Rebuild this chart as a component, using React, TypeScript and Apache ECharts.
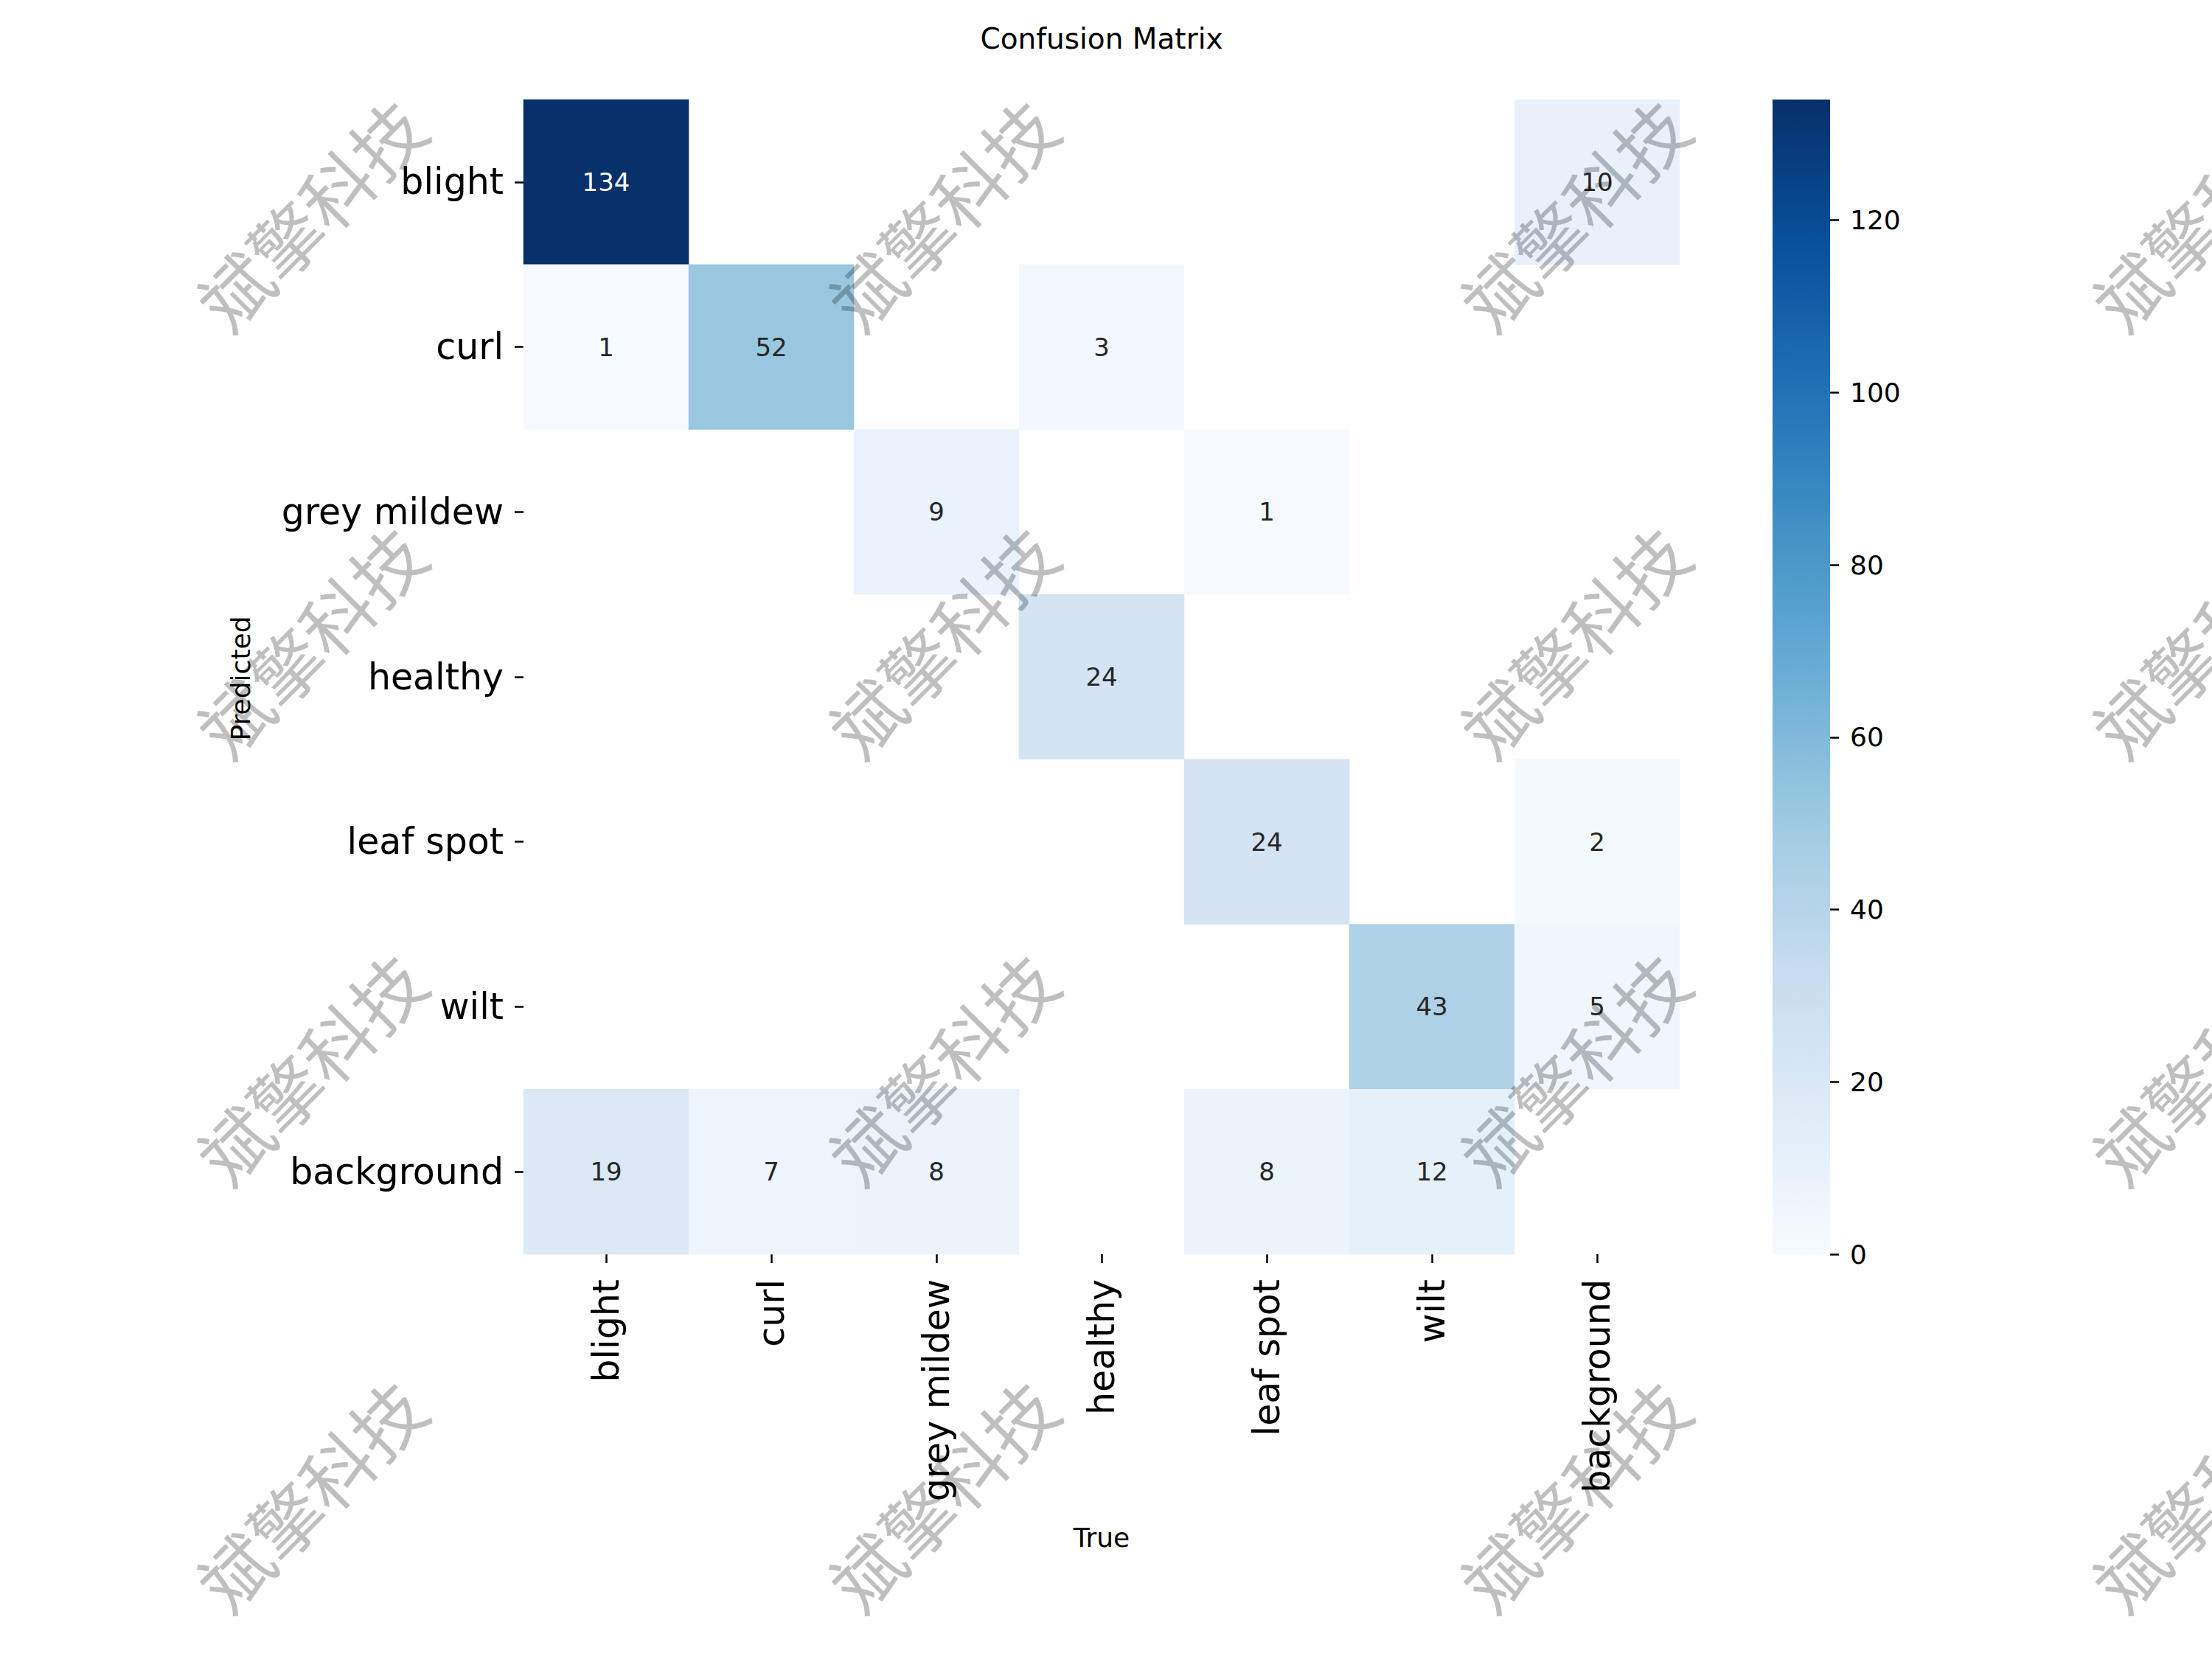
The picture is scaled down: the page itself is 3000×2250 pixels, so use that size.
import React, { useEffect, useRef } from "react";
import * as echarts from "echarts";

// Class labels shared by both axes (rows = predicted, columns = true)
const classNames = ["blight", "curl", "grey mildew", "healthy", "leaf spot", "wilt", "background"];

// Confusion counts, one array per predicted class; 0 = empty cell
const predBlight = [134, 0, 0, 0, 0, 0, 10];
const predCurl = [1, 52, 0, 3, 0, 0, 0];
const predGreyMildew = [0, 0, 9, 0, 1, 0, 0];
const predHealthy = [0, 0, 0, 24, 0, 0, 0];
const predLeafSpot = [0, 0, 0, 0, 24, 0, 2];
const predWilt = [0, 0, 0, 0, 0, 43, 5];
const predBackground = [19, 7, 8, 0, 8, 12, 0];
const matrix = [predBlight, predCurl, predGreyMildew, predHealthy, predLeafSpot, predWilt, predBackground];

// Colour bar range and tick values
const colorMin = 0;
const colorMax = 134;
const colorbarTicks = [0, 20, 40, 60, 80, 100, 120];

const titleText = "Confusion Matrix";
const xName = "True";
const yName = "Predicted";
const watermarkText = "斌擎科技";

// "Blues" sequential palette, light to dark
const blues = ["#f7fbff", "#deebf7", "#c6dbef", "#9ecae1", "#6baed6", "#4292c6", "#2171b5", "#08519c", "#08306b"];

const LATIN = '"DejaVu Sans", sans-serif';
const CJK = '"Noto Sans CJK SC", sans-serif';

function hexToRgb(h: string) {
  const n = parseInt(h.slice(1), 16);
  return [(n >> 16) & 255, (n >> 8) & 255, n & 255];
}

function colorAt(t: number) {
  const f = Math.max(0, Math.min(1, t)) * (blues.length - 1);
  const i = Math.min(blues.length - 2, Math.floor(f));
  const k = f - i;
  const a = hexToRgb(blues[i]);
  const b = hexToRgb(blues[i + 1]);
  return a.map((c, j) => c + (b[j] - c) * k);
}

// Annotation colour picked from the luminance of the cell colour
function annotColor(v: number) {
  const rgb = colorAt((v - colorMin) / (colorMax - colorMin)).map((c) => {
    const s = c / 255;
    return s <= 0.03928 ? s / 12.92 : Math.pow((s + 0.055) / 1.055, 2.4);
  });
  const lum = 0.2126 * rgb[0] + 0.7152 * rgb[1] + 0.0722 * rgb[2];
  return lum > 0.408 ? "#262626" : "#ffffff";
}

export default function App() {
  const ref = useRef<HTMLDivElement>(null);

  useEffect(() => {
    if (!ref.current) return;
    const chart = echarts.init(ref.current, undefined, { renderer: "svg" });

    const cells: any[] = [];
    matrix.forEach((row, r) => {
      row.forEach((v, c) => {
        if (v > 0) {
          cells.push({ value: [c, r, v], label: { color: annotColor(v) } });
        }
      });
    });

    const tickStyle = { color: "#000", width: 2.5 };

    // Watermark grid
    const marks: any[] = [];
    for (let i = 0; i < 4; i++) {
      for (let j = 0; j < 4; j++) {
        marks.push({
          type: "text",
          x: 420 + 857 * i,
          y: 289 + 579 * j,
          rotation: Math.PI / 4,
          z: 100,
          silent: true,
          style: {
            text: watermarkText,
            fontSize: 97,
            fontFamily: CJK,
            fill: "rgba(0,0,0,0.25)",
            align: "center",
            verticalAlign: "middle",
            textAlign: "center",
            textVerticalAlign: "middle",
          },
        });
      }
    }

    const gradientStops = blues
      .slice()
      .reverse()
      .map((c, i) => ({ offset: i / (blues.length - 1), color: c }));

    chart.setOption({
      animation: false,
      backgroundColor: "#ffffff",
      grid: [
        { left: 710, top: 135, width: 1568, height: 1566 },
        { left: 2404, top: 135, width: 78, height: 1566 },
      ],
      xAxis: [
        {
          type: "category",
          gridIndex: 0,
          data: classNames,
          position: "bottom",
          axisLine: { show: false },
          axisTick: { show: true, alignWithLabel: true, length: 12, lineStyle: tickStyle },
          axisLabel: { rotate: 90, fontSize: 49, fontFamily: LATIN, color: "#000", margin: 34 },
          splitLine: { show: false },
        },
        { type: "category", gridIndex: 1, data: ["scale"], show: false },
      ],
      yAxis: [
        {
          type: "category",
          gridIndex: 0,
          data: classNames,
          inverse: true,
          axisLine: { show: false },
          axisTick: { show: true, alignWithLabel: true, length: 12, lineStyle: tickStyle },
          axisLabel: { fontSize: 49, fontFamily: LATIN, color: "#000", margin: 27 },
          splitLine: { show: false },
        },
        {
          type: "value",
          gridIndex: 1,
          position: "right",
          min: colorMin,
          max: colorMax,
          interval: 20,
          axisLine: { show: false },
          axisTick: { show: true, length: 12, lineStyle: tickStyle, customValues: colorbarTicks },
          axisLabel: { fontSize: 36, fontFamily: LATIN, color: "#000", margin: 27, customValues: colorbarTicks },
          splitLine: { show: false },
        },
      ],
      visualMap: {
        show: false,
        type: "continuous",
        min: colorMin,
        max: colorMax,
        seriesIndex: 0,
        dimension: 2,
        inRange: { color: blues },
      },
      series: [
        {
          type: "heatmap",
          xAxisIndex: 0,
          yAxisIndex: 0,
          data: cells,
          label: {
            show: true,
            fontSize: 34,
            fontFamily: LATIN,
            formatter: (p: any) => String(p.value[2]),
          },
          emphasis: { disabled: true },
        },
        {
          type: "bar",
          xAxisIndex: 1,
          yAxisIndex: 1,
          data: [colorMax],
          barWidth: "100%",
          silent: true,
          itemStyle: { color: new echarts.graphic.LinearGradient(0, 0, 0, 1, gradientStops) },
        },
      ],
      graphic: [
        {
          type: "text",
          x: 1494,
          y: 52,
          style: {
            text: titleText,
            fontSize: 39,
            fontFamily: LATIN,
            fill: "#000",
            align: "center",
            verticalAlign: "middle",
            textAlign: "center",
            textVerticalAlign: "middle",
          },
        },
        {
          type: "text",
          x: 1494,
          y: 2085,
          style: {
            text: xName,
            fontSize: 36,
            fontFamily: LATIN,
            fill: "#000",
            align: "center",
            verticalAlign: "middle",
            textAlign: "center",
            textVerticalAlign: "middle",
          },
        },
        {
          type: "text",
          x: 326,
          y: 920,
          rotation: Math.PI / 2,
          style: {
            text: yName,
            fontSize: 36,
            fontFamily: LATIN,
            fill: "#000",
            align: "center",
            verticalAlign: "middle",
            textAlign: "center",
            textVerticalAlign: "middle",
          },
        },
        ...marks,
      ],
    });

    return () => chart.dispose();
  }, []);

  return (
    <div
      ref={ref}
      style={{ position: "absolute", left: 0, top: 0, width: 3000, height: 2250, background: "#fff" }}
    />
  );
}
